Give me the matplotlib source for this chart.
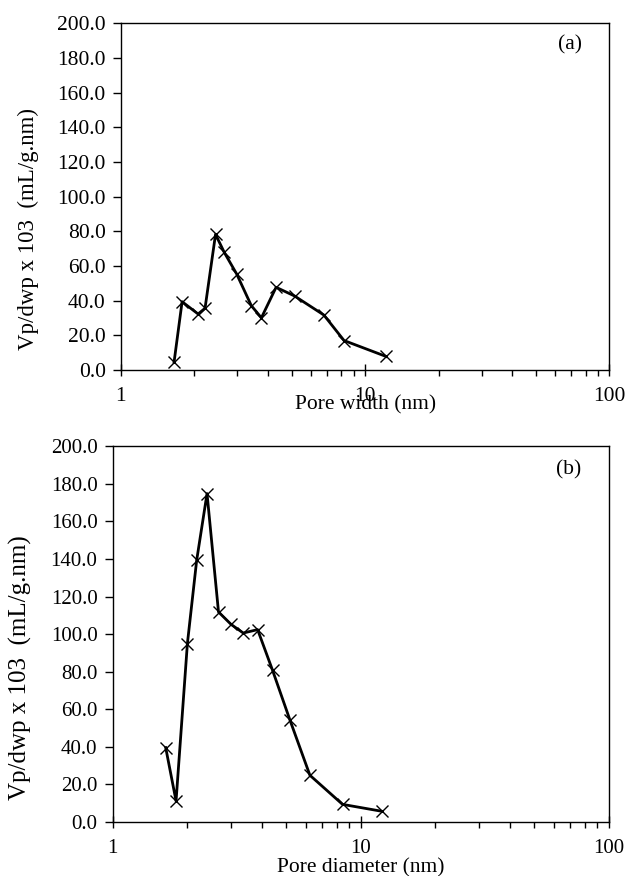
import matplotlib
matplotlib.use("Agg")
import matplotlib.pyplot as plt
from matplotlib.ticker import FormatStrFormatter, LogLocator, NullFormatter

# pore size distributions
width_a = [1.65, 1.78, 2.07, 2.21, 2.44, 2.65, 2.98, 3.42, 3.76, 4.32, 5.14, 6.78, 8.2, 12.2]
vol_a = [4.5, 39.4, 32.3, 35.6, 78.2, 67.8, 55.3, 37.1, 30.1, 47.7, 42.7, 31.7, 17.0, 7.8]

diam_b = [1.635, 1.80, 2.00, 2.18, 2.40, 2.67, 3.0, 3.36, 3.84, 4.41, 5.19, 6.24, 8.45, 12.2]
vol_b = [39.6, 11.2, 95.0, 139.3, 174.8, 111.8, 105.2, 100.6, 102.4, 80.8, 54.1, 24.9, 9.4, 5.7]

ylabel = "Vp/dwp x 103  (mL/g.nm)"
xlabels = ["Pore width (nm)", "Pore diameter (nm)"]
tags = ["(a)", "(b)"]

plt.rcParams['font.family'] = ['Liberation Serif', 'DejaVu Serif']

fig = plt.figure(figsize=(6.3, 8.76), dpi=100)
ax1 = fig.add_axes([0.192, 0.5776, 0.775, 0.396])
ax2 = fig.add_axes([0.179, 0.0616, 0.787, 0.429])

# (axes, x, y, xlabel, tag, tick font, ylabel font, xlabel y, ylabel x, ylabel y)
panels = [(ax1, width_a, vol_a, xlabels[0], tags[0], 15.5, 16.5, -0.072, -0.168, 0.406),
          (ax2, diam_b, vol_b, xlabels[1], tags[1], 15, 18, -0.096, -0.162, 0.412)]

for ax, xs, ys, xl, tag, tfs, yfs, xly, ylx, yly in panels:
    ax.plot(xs, ys, color='black', lw=2, marker='x', ms=8, mew=1.0)
    ax.set_xscale('log')
    ax.set_xlim(1, 100)
    ax.set_ylim(0, 200)
    ax.set_yticks(range(0, 201, 20))
    ax.yaxis.set_major_formatter(FormatStrFormatter('%.1f'))
    ax.xaxis.set_minor_locator(LogLocator(base=10, subs=range(2, 10)))
    ax.xaxis.set_minor_formatter(NullFormatter())
    ax.set_xticks([1, 10, 100])
    ax.set_xticklabels(['1', '10', '100'])
    ax.tick_params(axis='x', which='major', direction='inout', length=9, width=1, pad=8, labelsize=tfs)
    ax.tick_params(axis='x', which='minor', direction='out', length=4, width=1)
    ax.tick_params(axis='y', direction='out', length=6, width=1, pad=5, labelsize=tfs)
    for s in ax.spines.values():
        s.set_linewidth(1)
    ax.set_xlabel(xl, fontsize=15.5)
    ax.xaxis.set_label_coords(0.5, xly)
    ax.set_ylabel(ylabel, fontsize=yfs)
    ax.yaxis.set_label_coords(ylx, yly)
    ax.text(0.92, 0.938, tag, transform=ax.transAxes, fontsize=15.5, ha='center', va='center')

fig.savefig("out.png", dpi=100)
